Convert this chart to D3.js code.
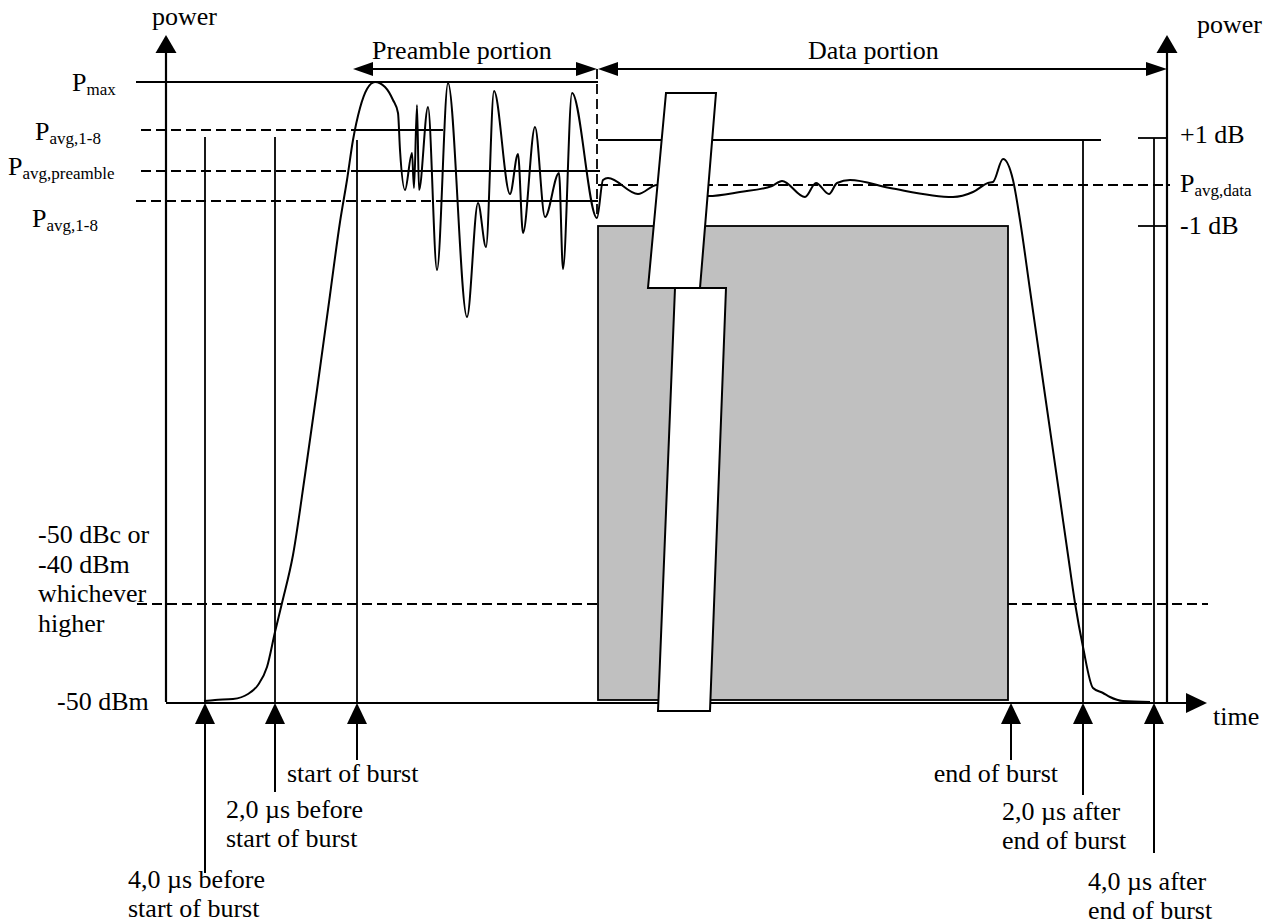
<!DOCTYPE html>
<html><head><meta charset="utf-8">
<script src="https://cdn.jsdelivr.net/npm/d3@7"></script>
<style>
html,body{margin:0;padding:0;background:#fff;}
svg{display:block;}
text{font-family:"Liberation Serif","Times New Roman",serif;font-size:26px;fill:#000;}
</style></head><body>
<svg id="chart" width="1267" height="924"></svg>
<script>
// ---------- DATA (diagram units: time 0 = power axis, power 0 = -50 dBm floor) ----------
const eventNames = ["4,0 µs before start of burst","2,0 µs before start of burst","start of burst","end of burst","2,0 µs after end of burst","4,0 µs after end of burst"];
const eventTimes = [39, 109, 191, 845, 917, 988];
const eventLineTop = [565, 565, 562, null, 562, 564];   // power level where the vertical guide starts
const eventLabelLines = [["4,0 µs before","start of burst"],["2,0 µs before","start of burst"],["start of burst"],["end of burst"],["2,0 µs after","end of burst"],["4,0 µs after","end of burst"]];

const levelNames = ["Pmax","Pavg,1-8 (upper)","Pavg,preamble","Pavg,1-8 (lower)","+1 dB","Pavg,data","-1 dB","-50 dBc / -40 dBm"];
const levelValues = [620, 572, 531, 501, 562, 517, 476, 98];
// [dashed from, dashed to, solid from, solid to] in time units (null = none)
const levelSpans = [
  [null,null,-30,432],
  [-25,187,187,277],
  [-25,189,189,434],
  [-30,274,274,432],
  [null,null,432,935],
  [432,1004,null,null],
  [null,null,null,null],
  [-29,1042,null,null]
];
const sideTicks = [564, 476];             // +1 dB / -1 dB tick levels on right axis
const dataBlock = {t0:432, t1:842, p0:2, p1:476};   // shaded data-portion region
const preambleSpan = [187, 431];
const dataSpan = [432, 1001];
const portionLevel = 633;
const axisTop = 667, timeAxisEnd = 1041, rightAxisT = 1001;

const burstCurve = [
 [38,1],[49,2],[67,3],[82,8],[92,17],[101,35],[109,70],[116,99],[127,147],[139,227],[151,312],[164,407],
 [174,480],[181,522],[187,562],[194,594],[201,613],[209,620],[219,615],[227,602],[232,589],[234,552],
 [239,512],[246,549],[248,514],[251,597],[253,512],[262,595],[271,432],[282,619],[301,385],[312,499],
 [320,455],[328,611],[344,508],[352,548],[357,469],[369,575],[379,485],[393,529],[397,433],[406,609],
 [431,484],[437,522],[442,524],[472,508],[491,517],[514,510],[542,506],[574,510],[606,516],[616,521],
 [639,505],[650,519],[663,508],[671,519],[684,522],[724,514],[787,505],[807,510],[822,519],[827,520],
 [837,543],[847,522],[854,482],[864,412],[879,307],[894,203],[902,147],[909,99],[917,55],[927,14],
 [937,9],[944,5],[957,1],[984,0]
];
const breakBars = [
  [[500,609],[550,609],[534,414],[482,414]],
  [[509,414],[560,414],[544,-9],[492,-9]]
];

// ---------- LAYOUT ----------
const svg = d3.select("#chart");
const x = d3.scaleLinear().domain([0,1000]).range([166,1166]);
const y = d3.scaleLinear().domain([0,667]).range([702,35]);
const W = 1.8, DASH = "10,5";

function line(t1,p1,t2,p2,dashed,w){
  const l = svg.append("line").attr("x1",x(t1)).attr("y1",y(p1)).attr("x2",x(t2)).attr("y2",y(p2))
    .attr("stroke","#000").attr("stroke-width",w||W);
  if(dashed) l.attr("stroke-dasharray",DASH);
  return l;
}
function head(px,py,dir,len,half){
  let pts;
  if(dir==="up") pts=[[px,py],[px-half,py+len],[px+half,py+len]];
  if(dir==="left") pts=[[px,py],[px+len,py-half],[px+len,py+half]];
  if(dir==="right") pts=[[px,py],[px-len,py-half],[px-len,py+half]];
  svg.append("path").attr("d","M"+pts.map(p=>p.join(",")).join("L")+"Z").attr("fill","#000");
}

levelValues.forEach((v,i)=>{
  const s = levelSpans[i];
  if(s[0]!==null) line(s[0],v,s[1],v,true);
  if(s[2]!==null) line(s[2],v,s[3],v,false);
});
line(431, portionLevel, 431, 484, true);

eventTimes.forEach((t,i)=>{ if(eventLineTop[i]!==null) line(t, eventLineTop[i], t, 0, false); });

svg.append("rect").attr("x",x(dataBlock.t0)).attr("y",y(dataBlock.p1))
  .attr("width",x(dataBlock.t1)-x(dataBlock.t0)).attr("height",y(dataBlock.p0)-y(dataBlock.p1))
  .attr("fill","#c0c0c0").attr("stroke","#000").attr("stroke-width",W);

svg.append("path").datum(burstCurve)
  .attr("d", d3.line().x(d=>x(d[0])).y(d=>y(d[1])).curve(d3.curveMonotoneX))
  .attr("fill","none").attr("stroke","#000").attr("stroke-width",2);

sideTicks.forEach(v=>line(972,v,rightAxisT,v,false));

line(0,0,0,axisTop-18,false,2.2); head(x(0),y(axisTop),"up",18,10.5);
line(rightAxisT,0,rightAxisT,axisTop-18,false,2.2); head(x(rightAxisT),y(axisTop),"up",18,10.5);
line(0,-1,timeAxisEnd-20,-1,false,2.2); head(x(timeAxisEnd),y(-1),"right",21,10);

line(preambleSpan[0]+18,portionLevel,preambleSpan[1]-18,portionLevel,false);
head(x(preambleSpan[0]),y(portionLevel),"left",20,7);
head(x(preambleSpan[1]),y(portionLevel),"right",21,7);
line(dataSpan[0]+18,portionLevel,dataSpan[1]-18,portionLevel,false);
head(x(dataSpan[0]),y(portionLevel),"left",20,7);
head(x(dataSpan[1]),y(portionLevel),"right",21,7);

breakBars.forEach(b=>{
  svg.append("path").attr("d","M"+b.map(p=>x(p[0])+","+y(p[1])).join("L")+"Z")
    .attr("fill","#fff").attr("stroke","#000").attr("stroke-width",2);
});

const stemEnd = [873, 792, 760, 760, 795, 853];
eventTimes.forEach((t,i)=>{
  const px = x(t);
  head(px, y(-1), "up", 21, 10);
  svg.append("line").attr("x1",px).attr("x2",px).attr("y1",y(-1)+20).attr("y2",stemEnd[i])
    .attr("stroke","#000").attr("stroke-width",2);
});

// ---------- TEXT ----------
function txt(s,px,py,anchor){
  return svg.append("text").attr("x",px).attr("y",py).attr("text-anchor",anchor||"start").text(s);
}
function subTxt(main,sub,px,py){
  const t = svg.append("text").attr("x",px).attr("y",py);
  t.append("tspan").text(main);
  t.append("tspan").attr("dy",4).style("font-size","17px").text(sub);
}
txt("power",152,25);
txt("power",1262,33,"end");
txt("Preamble portion",372,59);
txt("Data portion",808,59);
txt("time",1213,725);

const levelLabelSubs = ["max","avg,1-8","avg,preamble","avg,1-8"];
const levelLabelPos = [[72,91],[35,140],[8,175],[32,227]];
levelLabelSubs.forEach((s,i)=>subTxt("P",s,levelLabelPos[i][0],levelLabelPos[i][1]));

txt("+1 dB",1180,143);
subTxt("P","avg,data",1180,192);
txt("-1 dB",1180,234);

["-50 dBc or","-40 dBm","whichever","higher"].forEach((s,i)=>txt(s,38,543+i*29.5));
txt("-50 dBm",57,710);

const labelPos = [[128,888],[226,818],[287,782],[1058,782,"end"],[1002,820],[1088,890]];
eventLabelLines.forEach((ls,i)=>{
  ls.forEach((s,j)=>txt(s,labelPos[i][0],labelPos[i][1]+j*28.5,labelPos[i][2]));
});
</script>
</body></html>
